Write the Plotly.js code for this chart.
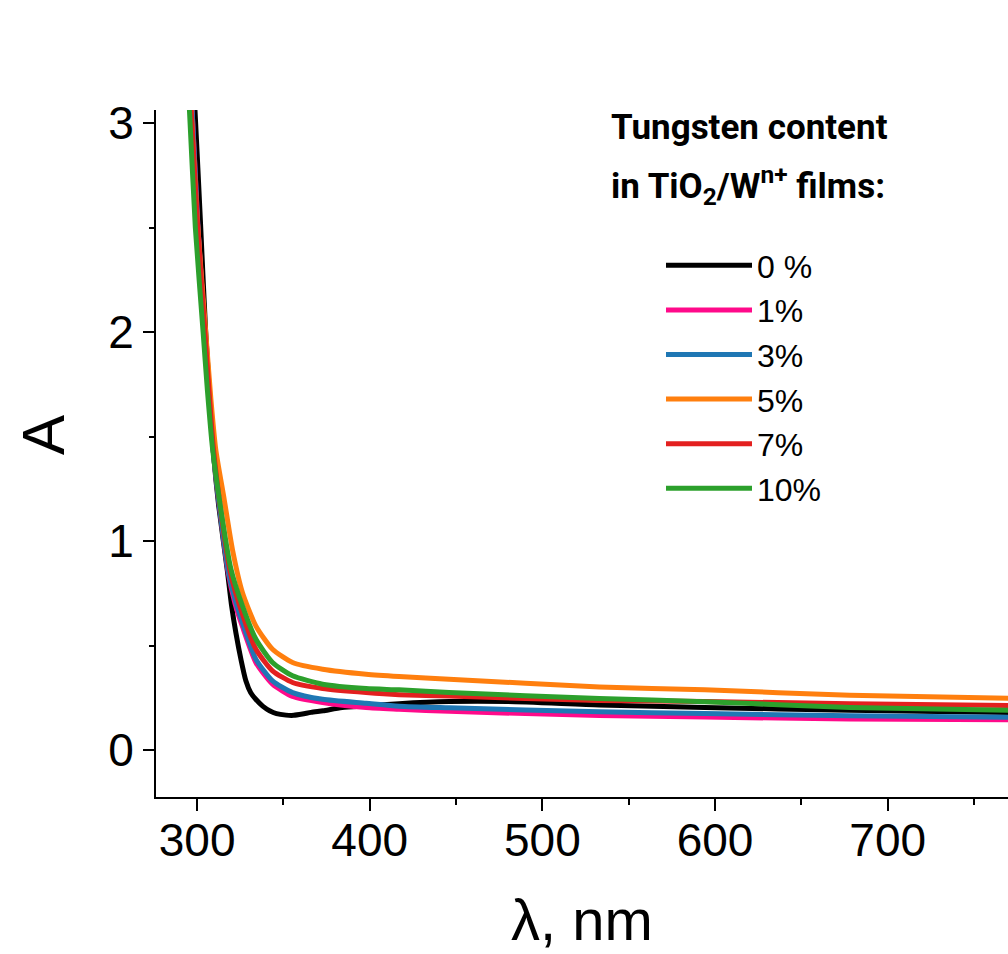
<!DOCTYPE html>
<html><head><meta charset="utf-8">
<script src="https://cdn.plot.ly/plotly-3.0.1.min.js"></script>
<style>html,body{margin:0;padding:0;background:#fff}#chart{width:1008px;height:954px}</style>
</head><body><div id="chart"></div>
<script>
// Legend labels and colours
const seriesNames = ['0 %', '1%', '3%', '5%', '7%', '10%'];
const seriesColors = ['#000000', '#ff0a8a', '#1f77b4', '#ff7f0e', '#e3201f', '#2ca02c'];

// 0 % W
const wl0 = [293, 296, 298.8, 302, 305, 309.5, 312.5, 317.5, 320, 322.5, 325.5, 328.3, 331, 334, 338, 342, 346, 351.5, 356, 361, 366, 373, 384, 398, 417, 446, 480, 533, 594, 678, 770];
const a0  = [3.9, 3.45, 3.06, 2.52, 2.0, 1.42, 1.17, 0.86, 0.69, 0.56, 0.43, 0.33, 0.275, 0.243, 0.21, 0.188, 0.174, 0.167, 0.166, 0.172, 0.18, 0.188, 0.203, 0.211, 0.222, 0.232, 0.232, 0.216, 0.204, 0.19, 0.18];
// 1 % W
const wl1 = [293, 297.5, 300.5, 304.5, 309.5, 313.5, 318, 322, 326.3, 334.1, 343.7, 355.3, 372.7, 397.9, 417, 446, 533, 594, 678, 770];
const a1  = [3.7, 3.0, 2.5, 2.0, 1.42, 1.13, 0.85, 0.7, 0.59, 0.418, 0.315, 0.256, 0.227, 0.203, 0.195, 0.185, 0.165, 0.158, 0.148, 0.145];
// 3 % W
const wl3 = [293, 297.5, 300.5, 304.5, 309.5, 313.5, 318, 322, 326.3, 334.1, 343.7, 355.3, 372.7, 397.9, 417, 446, 533, 594, 678, 770];
const a3  = [3.7, 3.0, 2.5, 2.0, 1.42, 1.13, 0.86, 0.72, 0.61, 0.434, 0.331, 0.275, 0.243, 0.224, 0.21, 0.202, 0.183, 0.175, 0.164, 0.157];
// 5 % W
const wl5 = [293, 297, 300, 305, 308, 310.8, 315.7, 320.5, 326.3, 334.1, 343.7, 355.3, 372.7, 397.9, 417, 446, 533, 594, 678, 770];
const a5  = [3.6, 3.0, 2.55, 2.0, 1.68, 1.44, 1.2, 0.959, 0.753, 0.593, 0.482, 0.419, 0.387, 0.363, 0.352, 0.339, 0.302, 0.288, 0.262, 0.248];
// 7 % W
const wl7 = [293, 297, 300, 304.5, 309.5, 314, 319, 326.3, 334.1, 343.7, 355.3, 372.7, 397.9, 417, 446, 533, 594, 678, 770];
const a7  = [3.6, 3.0, 2.55, 2.0, 1.44, 1.13, 0.86, 0.65, 0.482, 0.379, 0.323, 0.294, 0.275, 0.265, 0.258, 0.237, 0.232, 0.222, 0.213];
// 10 % W
const wl10 = [292, 295.6, 299, 303.5, 306, 309, 313.8, 319.5, 326.3, 334.1, 343.7, 355.3, 372.7, 397.9, 417, 446, 533, 594, 678, 770];
const a10  = [3.6, 3.06, 2.5, 2.0, 1.72, 1.44, 1.15, 0.87, 0.689, 0.53, 0.419, 0.355, 0.315, 0.294, 0.288, 0.275, 0.247, 0.231, 0.204, 0.19];

// Axis ticks
const xTickVals = [300, 400, 500, 600, 700];
const xMinorVals = [350, 450, 550, 650, 750];
const yTickVals = [0, 1, 2, 3];
const yMinorVals = [0.5, 1.5, 2.5];

const xs = [wl0, wl1, wl3, wl5, wl7, wl10];
const ys = [a0, a1, a3, a5, a7, a10];

const traces = xs.map((x, i) => ({
  type: 'scatter', mode: 'lines', x: x, y: ys[i], name: seriesNames[i],
  line: {color: seriesColors[i], width: 5, shape: 'spline', smoothing: 0.6}
}));

const tickFont = {family: 'Liberation Sans, Arial, Helvetica, sans-serif', size: 46, color: '#000'};
const titleFontFam = 'Roboto, sans-serif';

const PL = 156, PT = 110, PB = 797, PW = 852, PH = 687;
const px = v => (v - PL) / PW;
const py = v => (PB - v) / PH;

const layout = {
  width: 1008, height: 954,
  margin: {l: PL, r: 0, t: PT, b: 954 - PB, autoexpand: false},
  paper_bgcolor: '#fff', plot_bgcolor: '#fff',
  showlegend: true,
  legend: {
    x: px(661), y: py(238), xanchor: 'left', yanchor: 'top',
    font: {family: 'Liberation Sans, Arial, sans-serif', size: 32, color: '#000'},
    itemwidth: 86, bgcolor: 'rgba(0,0,0,0)', borderwidth: 0
  },
  xaxis: {
    range: [276.2, 769.7], tickvals: xTickVals, ticks: 'outside', ticklen: 12, tickwidth: 2, tickcolor: '#000',
    showline: true, linecolor: '#000', linewidth: 2, showgrid: false, zeroline: false,
    tickfont: tickFont, ticklabelstandoff: -10,
    minor: {tickvals: xMinorVals, ticks: 'outside', ticklen: 6, tickwidth: 2, tickcolor: '#000', showgrid: false},
    title: {text: 'λ, nm', font: {family: 'Liberation Sans, Arial, sans-serif', size: 58, color: '#000'}, standoff: 34}
  },
  yaxis: {
    range: [-0.225, 3.064], tickvals: yTickVals, ticks: 'outside', ticklen: 11, tickwidth: 2, tickcolor: '#000',
    showline: true, linecolor: '#000', linewidth: 2, showgrid: false, zeroline: false,
    tickfont: tickFont,
    minor: {tickvals: yMinorVals, ticks: 'outside', ticklen: 5, tickwidth: 2, tickcolor: '#000', showgrid: false}
  },
  annotations: [
    {xref: 'paper', yref: 'paper', x: px(43), y: py(435), text: 'A', textangle: -90,
     showarrow: false, xanchor: 'center', yanchor: 'middle',
     font: {family: 'Liberation Sans, Arial, sans-serif', size: 60, color: '#000'}},
    {xref: 'paper', yref: 'paper', x: px(609), y: py(128), text: 'Tungsten content',
     showarrow: false, xanchor: 'left', yanchor: 'middle',
     font: {family: titleFontFam, size: 35, color: '#000', weight: 'bold'}},
    {xref: 'paper', yref: 'paper', x: px(609), y: py(185), text: 'in TiO<sub>2</sub>/W<sup>n+</sup> films:',
     showarrow: false, xanchor: 'left', yanchor: 'middle',
     font: {family: titleFontFam, size: 35, color: '#000', weight: 'bold'}}
  ]
};

Plotly.newPlot('chart', traces, layout, {displayModeBar: false, staticPlot: true});
</script>
</body></html>
